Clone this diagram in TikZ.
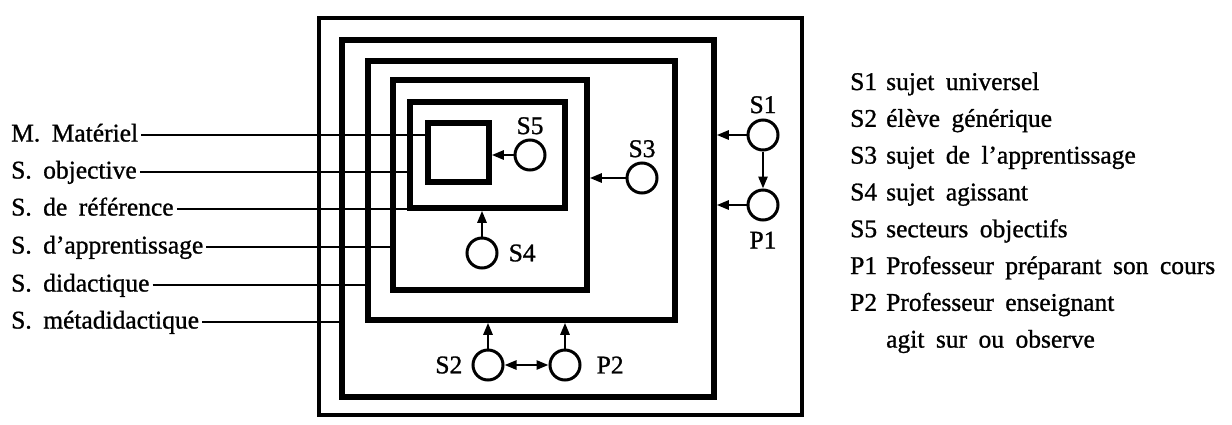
\documentclass[tikz,border=0pt]{standalone}
\usepackage{fontspec}
\setmainfont{Liberation Serif}[WordSpace=1.8, FakeBold=1]
\usetikzlibrary{arrows.meta,fit}

\tikzset{
  milieu/.style={draw, line width=5.5pt, inner sep=0pt},
  agent/.style={draw, circle, line width=3pt, minimum size=30pt, inner sep=0pt},
  lab/.style={inner sep=1pt},
  tag/.style={anchor=west, inner ysep=0pt, inner xsep=3pt, text height=18pt, text depth=5pt},
  key/.style={anchor=base west, inner sep=0pt},
  lead/.style={line width=2.8pt},
  act/.style={line width=2.6pt, -{Triangle[length=12pt,width=9pt]}},
}

\begin{document}
\begin{tikzpicture}[x=1pt, y=-1pt, font=\fontsize{25.5}{30}\selectfont]
    \useasboundingbox (0,0) rectangle (1232,424);

    % Nested milieux
    \node[milieu, line width=4.5pt, fit={(319,18) (802,415)}] (b1) {};
    \node[milieu, fit={(342,40) (714,397)}] (b2) {};
    \node[milieu, fit={(368,61) (675,320)}] (b3) {};
    \node[milieu, fit={(393,80) (587,290)}] (b4) {};
    \node[milieu, fit={(410,102) (565,208)}] (b5) {};
    \node[milieu, fit={(428,123) (489,182)}] (b6) {};

    % Names of the milieux
    \node[tag] (lmat) at (8,135) {M. Matériel};
    \node[tag] (lobj) at (8,172) {S. objective};
    \node[tag] (lref) at (8,209) {S. de référence};
    \node[tag] (lapp) at (8,247) {S. d’apprentissage};
    \node[tag] (ldid) at (8,285) {S. didactique};
    \node[tag] (lmet) at (8,322) {S. métadidactique};
    \draw[lead] (lmat) -- (lmat -| b6.west);
    \draw[lead] (lobj) -- (lobj -| b5.west);
    \draw[lead] (lref) -- (lref -| b5.west);
    \draw[lead] (lapp) -- (lapp -| b4.west);
    \draw[lead] (ldid) -- (ldid -| b3.west);
    \draw[lead] (lmet) -- (lmet -| b2.west);

    % Subjects
    \node[agent, label={[lab, label distance=3pt]above:S5}] (s5) at (530,155) {};
    \node[agent, label={[lab, label distance=9pt]right:S4}] (s4) at (482,253) {};
    \node[agent, label={[lab, label distance=3pt]above:S3}] (s3) at (642,178) {};
    \node[agent, label={[lab, label distance=4pt]above:S1}] (s1) at (763,135) {};
    \node[agent, label={[lab, label distance=9pt]below:P1}] (p1) at (763,205) {};
    \node[agent, label={[lab, label distance=8pt]left:S2}] (s2) at (488,365) {};
    \node[agent, label={[lab, label distance=14pt]right:P2}] (p2) at (565,365) {};

    \draw[act] (s5) -- (s5 -| b6.east);
    \draw[act] (s4) -- (s4 |- b5.south);
    \draw[act] (s3) -- (s3 -| b4.east);
    \draw[act] (s1) -- (s1 -| b2.east);
    \draw[act] (p1) -- (p1 -| b2.east);
    \draw[act] (s1) -- (p1);
    \draw[act] (s2) -- (s2 |- b3.south);
    \draw[act] (p2) -- (p2 |- b3.south);
    \draw[act, {Triangle[length=12pt,width=9pt]}-{Triangle[length=12pt,width=9pt]}] (s2) -- (p2);

    % Legend
    \foreach \k/\txt [count=\i] in {S1/sujet universel, S2/élève générique,
        S3/sujet de l’apprentissage, S4/sujet agissant, S5/secteurs objectifs,
        P1/Professeur préparant son cours, P2/Professeur enseignant} {
        \node[key] (key\i) at (850,{53.2+36.8*\i}) {\k};
        \node[key] (desc\i) at (886,{53.2+36.8*\i}) {\txt};
    }
    \node[key] (desc8) at (886,347.6) {agit sur ou observe};
\end{tikzpicture}
\end{document}
